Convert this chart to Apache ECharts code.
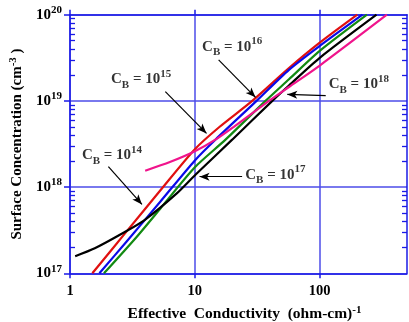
<!DOCTYPE html>
<html>
<head>
<meta charset="utf-8">
<script src="https://cdn.jsdelivr.net/npm/echarts@6/dist/echarts.min.js"></script>
<style>
  html, body { margin: 0; padding: 0; background: #fff; }
  #chart { width: 409px; height: 322px; }
</style>
</head>
<body>
<div id="chart"></div>
<script>
// Surface concentration vs. effective conductivity, one curve per background doping C_B
// Points are [conductivity (ohm-cm)^-1, surface concentration cm^-3]
const cb14 = [[1.51, 1e17], [2.82, 3.02e17], [5.28, 9.12e17], [10, 2.75e18], [15.8, 5.01e18], [28.8, 1e19], [56.7, 2.4e19], [100, 4.73e19], [200, 1e20]];
const cb15 = [[1.72, 1e17], [2.82, 2.31e17], [5.28, 6.76e17], [10, 2.04e18], [14.6, 3.55e18], [31.2, 1e19], [56.7, 2.29e19], [100, 4.34e19], [220, 1e20]];
const cb16 = [[1.87, 1e17], [3.43, 2.66e17], [5.28, 5.62e17], [10, 1.7e18], [17.6, 3.55e18], [36.8, 1e19], [56.7, 1.78e19], [100, 3.8e19], [239, 1e20]];
const cb17 = [[1.1, 1.58e17], [1.58, 1.95e17], [2.68, 2.95e17], [3.98, 4.17e17], [7.2, 8.5e17], [10.2, 1.41e18], [19.9, 3.55e18], [41.7, 1e19], [56.7, 1.51e19], [100, 3.16e19], [285, 1e20]];
const cb18 = [[4.0, 1.55e18], [6.31, 1.95e18], [10, 2.6e18], [14.6, 3.55e18], [20.5, 5.01e18], [39.2, 1e19], [56.7, 1.45e19], [100, 2.57e19], [345, 1e20]];

// Tick values
const xTicks = [1, 10, 100];
const yTicks = [1e17, 1e18, 1e19, 1e20];
const yMinor = [];
[17, 18, 19].forEach(function (e) {
  for (let m = 2; m <= 9; m++) yMinor.push(m * Math.pow(10, e));
});

// Callouts: exponent of C_B, label centre, arrow tail, arrow head
const noteExp = ['14', '15', '16', '17', '18'];
const notePos = [[2.17, 2.34e18], [3.71, 1.77e19], [19.9, 4.22e19], [44.1, 1.39e18], [205.6, 1.56e19]];
const arrowFrom = [[2.03, 1.73e18], [5.8, 1.28e19], [15.5, 2.99e19], [23.9, 1.32e18], [111.7, 1.15e19]];
const arrowTo = [[3.77, 6.3e17], [12.4, 4.2e18], [30.6, 1.1e19], [10.9, 1.32e18], [55, 1.19e19]];

const serif = "'Liberation Serif', 'Times New Roman', 'DejaVu Serif', serif";
const axisBlue = '#1a1ae6';
const gridBlue = '#4d4de8';

const chart = echarts.init(document.getElementById('chart'), null, { renderer: 'canvas' });

const noteRich = {
  c: { fontFamily: serif, fontWeight: 'bold', fontSize: 15, color: '#000', lineHeight: 22, verticalAlign: 'middle' },
  b: { fontFamily: serif, fontWeight: 'bold', fontSize: 11, color: '#000', lineHeight: 12, verticalAlign: 'bottom' },
  s: { fontFamily: serif, fontWeight: 'bold', fontSize: 11, color: '#000', lineHeight: 12, verticalAlign: 'top' }
};

function curve(name, data, color) {
  return {
    name: name,
    type: 'line',
    data: data,
    showSymbol: false,
    smooth: 0.25,
    lineStyle: { color: color, width: 2.2 },
    xAxisIndex: 0,
    yAxisIndex: 0,
    z: 3
  };
}

const option = {
  animation: false,
  backgroundColor: '#fff',
  grid: { left: 70, right: 2, top: 14.7, bottom: 48.7, containLabel: false, outerBoundsMode: 'none' },
  xAxis: [
    {
      type: 'log', logBase: 10, min: 1, max: 500, position: 'bottom',
      axisLine: { show: true, lineStyle: { color: axisBlue, width: 1.5 } },
      axisTick: { show: true, inside: false, length: 5, customValues: xTicks, lineStyle: { color: axisBlue, width: 1.5 } },
      axisLabel: {
        customValues: xTicks, margin: 10, color: '#000',
        fontFamily: serif, fontWeight: 'bold', fontSize: 14.5,
        formatter: function (v) { return String(Math.round(v)); }
      },
      splitLine: { show: true, lineStyle: { color: gridBlue, width: 1.5 } },
      minorTick: { show: false },
      name: '{t|Effective  Conductivity  (ohm-cm)}{s|-1}',
      nameLocation: 'middle', nameGap: 31,
      nameTextStyle: {
        padding: [0, 0, 0, 12],
        rich: {
          t: { fontFamily: serif, fontWeight: 'bold', fontSize: 15.5, color: '#000', lineHeight: 20, verticalAlign: 'middle' },
          s: { fontFamily: serif, fontWeight: 'bold', fontSize: 11, color: '#000', lineHeight: 12, verticalAlign: 'top' }
        }
      }
    },
    {
      type: 'log', logBase: 10, min: 1, max: 500, position: 'top',
      axisLine: { show: true, lineStyle: { color: axisBlue, width: 1.5 } },
      axisTick: { show: true, inside: false, length: 5, customValues: xTicks, lineStyle: { color: axisBlue, width: 1.5 } },
      axisLabel: { show: false },
      splitLine: { show: false }
    }
  ],
  yAxis: [
    {
      type: 'log', logBase: 10, min: 1e17, max: 1e20, position: 'left',
      axisLine: { show: true, lineStyle: { color: axisBlue, width: 1.5 } },
      axisTick: { show: true, inside: false, length: 6, customValues: yTicks, lineStyle: { color: axisBlue, width: 1.5 } },
      axisLabel: {
        customValues: yTicks, margin: 8,
        formatter: function (v) { return '{b|10}{s|' + Math.round(Math.log10(v)) + '}'; },
        rich: {
          b: { fontFamily: serif, fontWeight: 'bold', fontSize: 15, color: '#000', lineHeight: 20, verticalAlign: 'middle' },
          s: { fontFamily: serif, fontWeight: 'bold', fontSize: 11, color: '#000', lineHeight: 12, verticalAlign: 'top' }
        }
      },
      splitLine: { show: true, lineStyle: { color: gridBlue, width: 1.5 } },
      name: '{t|Surface Concentration (cm}{s|-3}{t| )}',
      nameLocation: 'middle', nameGap: 36, nameRotate: 90,
      nameTextStyle: {
        rich: {
          t: { fontFamily: serif, fontWeight: 'bold', fontSize: 15, color: '#000', lineHeight: 20, verticalAlign: 'middle' },
          s: { fontFamily: serif, fontWeight: 'bold', fontSize: 11, color: '#000', lineHeight: 12, verticalAlign: 'top' }
        }
      }
    },
    {
      type: 'log', logBase: 10, min: 1e17, max: 1e20, position: 'left',
      axisLine: { show: false },
      axisTick: { show: true, inside: true, length: 5, customValues: yMinor, lineStyle: { color: axisBlue, width: 1.3 } },
      axisLabel: { show: false },
      splitLine: { show: false }
    },
    {
      type: 'log', logBase: 10, min: 1e17, max: 1e20, position: 'right',
      axisLine: { show: true, lineStyle: { color: axisBlue, width: 1.5 } },
      axisTick: { show: true, inside: true, length: 5, customValues: yMinor, lineStyle: { color: axisBlue, width: 1.3 } },
      axisLabel: { show: false },
      splitLine: { show: false }
    }
  ],
  series: [
    curve('C_B = 1e14', cb14, '#e01010'),
    curve('C_B = 1e15', cb15, '#0a0ae8'),
    curve('C_B = 1e16', cb16, '#128a12'),
    curve('C_B = 1e17', cb17, '#000000'),
    curve('C_B = 1e18', cb18, '#f0148c'),
    {
      name: 'arrows',
      type: 'line',
      data: [],
      xAxisIndex: 0,
      yAxisIndex: 0,
      markLine: {
        silent: true,
        symbol: ['none', 'arrow'],
        symbolSize: [6, 10],
        label: { show: false },
        lineStyle: { color: '#000', width: 1.2, type: 'solid' },
        data: arrowFrom.map(function (p, i) { return [{ coord: p }, { coord: arrowTo[i] }]; })
      },
      z: 4
    },
    {
      name: 'callouts',
      type: 'scatter',
      xAxisIndex: 0,
      yAxisIndex: 0,
      symbolSize: 1,
      itemStyle: { color: 'rgba(0,0,0,0)' },
      silent: true,
      clip: false,
      z: 5,
      label: { show: true, position: 'inside', rich: noteRich },
      data: notePos.map(function (p, i) {
        return { value: p, label: { formatter: '{c|C}{b|B}{c| = 10}{s|' + noteExp[i] + '}' } };
      })
    }
  ]
};

chart.setOption(option);
</script>
</body>
</html>
